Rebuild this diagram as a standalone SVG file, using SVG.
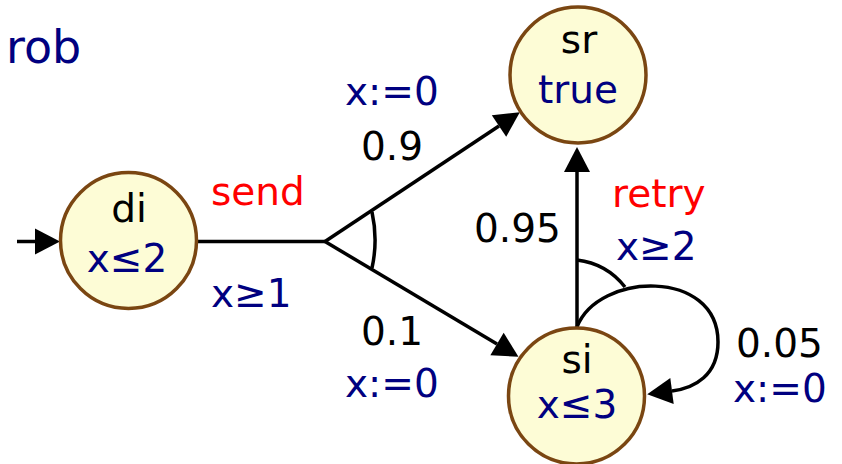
<svg xmlns="http://www.w3.org/2000/svg" width="842" height="464" viewBox="0 0 842 464">
<style>
text{font-family:"DejaVu Sans","Liberation Sans",sans-serif;font-size:39px}
.st{fill:#fdfcd6;stroke:#7a4612;stroke-width:3.5}
.e{fill:none;stroke:#000;stroke-width:3.5}
.nav{fill:#000080}
.act{fill:#ff0000}
.blk{fill:#000}
.mid{text-anchor:middle}
</style>
<defs>
<marker id="ah" markerUnits="userSpaceOnUse" markerWidth="26" markerHeight="26" refX="0" refY="13" orient="auto" overflow="visible">
<path d="M0,0 L25,13 L0,26 z" fill="#000"/>
</marker>
</defs>
<rect width="842" height="464" fill="#fff"/>
<text x="6" y="63" class="nav" style="font-size:46px">rob</text>
<g id="connectors">
<path class="e" d="M17,241.5 L35,241.5" marker-end="url(#ah)"/>
<path class="e" d="M197,241.5 L325,241.5"/>
<path class="e" d="M325,241.5 L499,126" marker-end="url(#ah)"/>
<path class="e" d="M325,241.5 L497,344" marker-end="url(#ah)"/>
<path class="e" d="M372,212 A130,130 0 0 1 372,268"/>
<path class="e" d="M577,327 L577,172" marker-end="url(#ah)"/>
<path class="e" d="M577,327 C598,272 718,268 718,342 C718,375 695,388 672,391" marker-end="url(#ah)"/>
<path class="e" d="M577,260 A72,72 0 0 1 625,287"/>
</g>
<g id="labels">
<text x="211" y="205" class="act">send</text>
<text x="211" y="307" class="nav">x≥1</text>
<text x="345" y="105" class="nav">x:=0</text>
<text x="361" y="160" class="blk">0.9</text>
<text x="361" y="345" class="blk">0.1</text>
<text x="345" y="397" class="nav">x:=0</text>
<text x="474" y="242" class="blk">0.95</text>
<text x="612" y="207" class="act">retry</text>
<text x="616" y="260" class="nav">x≥2</text>
<text x="736" y="357" class="blk">0.05</text>
<text x="733" y="402" class="nav">x:=0</text>
</g>
<g id="di">
<circle class="st" cx="128.5" cy="240.5" r="68"/>
<text x="129" y="222" class="blk mid">di</text>
<text x="127" y="272" class="nav mid">x≤2</text>
</g>
<g id="sr">
<circle class="st" cx="578" cy="75" r="68"/>
<text x="579" y="53" class="blk mid">sr</text>
<text x="578" y="103" class="nav mid">true</text>
</g>
<g id="si">
<circle class="st" cx="576.5" cy="396" r="68"/>
<text x="577" y="373" class="blk mid">si</text>
<text x="577" y="418" class="nav mid">x≤3</text>
</g>
</svg>
